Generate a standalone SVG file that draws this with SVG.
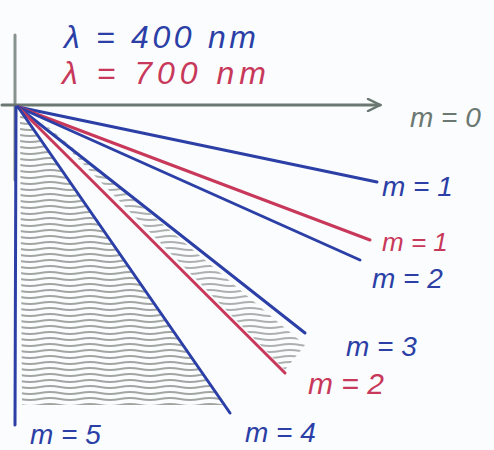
<svg xmlns="http://www.w3.org/2000/svg" width="494" height="450" viewBox="0 0 494 450">
<defs>
<style>
.b{stroke:#2b3fa6;stroke-width:3;fill:none;stroke-linecap:round}
.r{stroke:#c8385a;stroke-width:3;fill:none;stroke-linecap:round}
.g{stroke:#6b7872;stroke-width:3;fill:none;stroke-linecap:round}
text{font-family:"Liberation Sans","DejaVu Sans",sans-serif;font-style:italic}
.tb{fill:#2b3fa6}.tr{fill:#c8385a}.tg{fill:#6b7872}
</style>
<marker id="ah" markerWidth="16" markerHeight="14" refX="14" refY="7" orient="auto" markerUnits="userSpaceOnUse">
<path d="M2,1 L14,7 L2,13" fill="none" stroke="#6b7872" stroke-width="2.5" stroke-linecap="round"/>
</marker>
<pattern id="hatch" width="40" height="6" patternUnits="userSpaceOnUse">
<path d="M0,3 Q10,1 20,3 T40,3" stroke="#8a918d" stroke-width="2.2" fill="none"/>
</pattern>
</defs>
<rect width="494" height="450" fill="#fbfcfd"/>
<g id="shading">
<polygon points="20,112 22,405 226,405" fill="url(#hatch)" opacity="0.8"/>
<polygon points="40,120 285,370 305,345" fill="url(#hatch)" opacity="0.7"/>
</g>
<g id="axes">
<line class="g" x1="15" y1="35" x2="15" y2="180" opacity="0.8"/>
<line class="g" x1="2" y1="105" x2="380" y2="105" marker-end="url(#ah)"/>
</g>
<g id="connectors">
<line class="b" x1="18" y1="107" x2="377" y2="182"/>
<line class="r" x1="18" y1="107" x2="370" y2="240"/>
<line class="b" x1="18" y1="107" x2="360" y2="260"/>
<line class="b" x1="18" y1="107" x2="305" y2="333"/>
<line class="r" x1="18" y1="107" x2="285" y2="373"/>
<line class="b" x1="18" y1="107" x2="230" y2="413"/>
<line class="b" x1="16" y1="107" x2="15" y2="425"/>
</g>
<g id="legend-400"><text class="tb" x="64" y="48" font-size="32" textLength="192" lengthAdjust="spacing">λ = 400 nm</text></g>
<g id="legend-700"><text class="tr" x="62" y="84" font-size="32" textLength="204" lengthAdjust="spacing">λ = 700 nm</text></g>
<g id="label-m0"><text class="tg" x="410" y="127" font-size="28">m = 0</text></g>
<g id="label-m1-blue"><text class="tb" x="382" y="196" font-size="28">m = 1</text></g>
<g id="label-m1-red"><text class="tr" x="382" y="251" font-size="26">m = 1</text></g>
<g id="label-m2-blue"><text class="tb" x="372" y="288" font-size="28">m = 2</text></g>
<g id="label-m3-blue"><text class="tb" x="346" y="356" font-size="28">m = 3</text></g>
<g id="label-m2-red"><text class="tr" x="308" y="394" font-size="30">m = 2</text></g>
<g id="label-m4-blue"><text class="tb" x="245" y="442" font-size="28">m = 4</text></g>
<g id="label-m5-blue"><text class="tb" x="30" y="444" font-size="28">m = 5</text></g>
</svg>
